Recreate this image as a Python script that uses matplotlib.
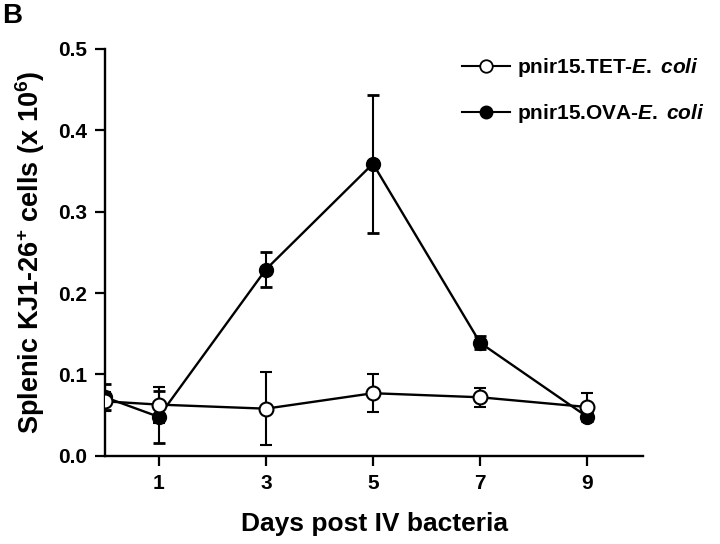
import numpy as np
import matplotlib
matplotlib.use("Agg")
from matplotlib import pyplot as plt
from matplotlib.lines import Line2D

plt.rcParams['font.family'] = ['Liberation Sans', 'DejaVu Sans']
plt.rcParams['font.weight'] = 'bold'
plt.rcParams['mathtext.fontset'] = 'custom'
plt.rcParams['mathtext.rm'] = 'Liberation Sans:bold'
plt.rcParams['mathtext.it'] = 'Liberation Sans:bold:italic'
plt.rcParams['mathtext.bf'] = 'Liberation Sans:bold'

# data
days = [0, 1, 3, 5, 7, 9]
tet_mean = [0.067, 0.063, 0.058, 0.077, 0.072, 0.060]
tet_err = [0.012, 0.022, 0.045, 0.023, 0.012, 0.017]
ova_mean = [0.072, 0.048, 0.229, 0.359, 0.139, 0.048]
ova_err = [0.016, 0.032, 0.021, 0.085, 0.008, 0.005]

xticks = [1, 3, 5, 7, 9]
yticks = [0.0, 0.1, 0.2, 0.3, 0.4, 0.5]

fig = plt.figure(figsize=(7.2, 5.44), dpi=100)
ax = fig.add_axes([0.146, 0.162, 0.747, 0.748])

ax.errorbar(days, ova_mean, yerr=ova_err, color='black', lw=1.7,
            marker='o', ms=10, mfc='black', mec='black',
            capsize=4.5, capthick=2, elinewidth=1.5, zorder=3)
ax.errorbar(days, tet_mean, yerr=tet_err, color='black', lw=1.7,
            marker='o', ms=10, mfc='white', mec='black', mew=1.5,
            capsize=4.5, capthick=2, elinewidth=1.5, zorder=4)

ax.set_xlim(0, 10.04)
ax.set_ylim(0, 0.5)
ax.set_xticks(xticks)
ax.set_yticks(yticks)
ax.set_yticklabels(['%.1f' % v for v in yticks])
ax.tick_params(direction='out', length=7, width=1.6, labelsize=15, pad=6)
for s in ['top', 'right']:
    ax.spines[s].set_visible(False)
for s in ['left', 'bottom']:
    ax.spines[s].set_linewidth(1.7)

ax.set_xlabel('Days post IV bacteria', fontsize=19, fontweight='bold', labelpad=14)
ax.set_ylabel(r'Splenic KJ1-26$^{+}$ cells (x 10$^{6}$)', fontsize=19.5,
              fontweight='bold', labelpad=8)

handles = [Line2D([], [], color='black', lw=1.5, marker='o', ms=9,
                  mfc='white', mec='black', mew=1.3),
           Line2D([], [], color='black', lw=1.5, marker='o', ms=9,
                  mfc='black', mec='black')]
labels = [r'pnir15.TET-$\mathit{E.\;coli}$', r'pnir15.OVA-$\mathit{E.\;coli}$']
ax.legend(handles, labels, loc='upper left', bbox_to_anchor=(0.642, 0.897),
          bbox_transform=fig.transFigure, frameon=False, fontsize=15,
          handlelength=2.3, handletextpad=0.35, labelspacing=1.1,
          borderpad=0, borderaxespad=0, numpoints=1)

fig.text(0.003, 0.995, 'B', fontsize=20, fontweight='bold', va='top', ha='left')

fig.savefig('out.png', dpi=100)
